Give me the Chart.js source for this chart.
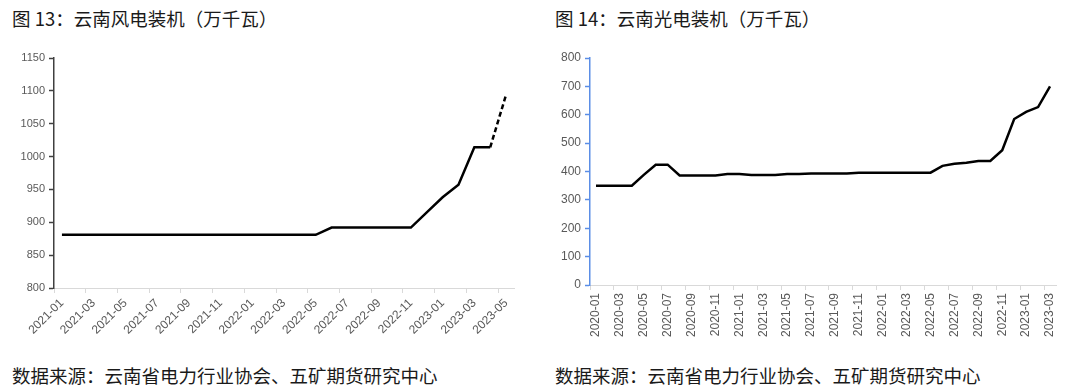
<!DOCTYPE html>
<html lang="zh-cn">
<head>
  <meta charset="UTF-8">
  <title>云南风电、光电装机</title>
  <script src="https://cdn.jsdelivr.net/npm/chart.js"></script>
  <style>
    body { margin: 0; width: 1080px; height: 392px; background: #fff; position: relative; overflow: hidden; font-family: "Noto Sans CJK SC", sans-serif; }
    .titulo { position: absolute; top: 5px; font-size: 18.5px; color: #1a1a1a; white-space: nowrap; }
    .fonte { position: absolute; top: 362px; font-size: 18.5px; color: #1a1a1a; white-space: nowrap; }
    canvas { position: absolute; top: 40px; }
  </style>
</head>
<body>
  <div class="titulo" style="left:12px">图 13：云南风电装机（万千瓦）</div>
  <div class="titulo" style="left:555px">图 14：云南光电装机（万千瓦）</div>

  <canvas id="vento" width="540" height="320" style="left:0"></canvas>
  <canvas id="solar" width="540" height="320" style="left:540px"></canvas>

  <div class="fonte" style="left:12px">数据来源：云南省电力行业协会、五矿期货研究中心</div>
  <div class="fonte" style="left:555px">数据来源：云南省电力行业协会、五矿期货研究中心</div>

  <script>
    // 图13 风电 (万千瓦)
    const ventoMeses = [
      '2021-01','2021-02','2021-03','2021-04','2021-05','2021-06','2021-07','2021-08','2021-09','2021-10','2021-11','2021-12',
      '2022-01','2022-02','2022-03','2022-04','2022-05','2022-06','2022-07','2022-08','2022-09','2022-10','2022-11','2022-12',
      '2023-01','2023-02','2023-03','2023-04','2023-05'
    ];
    const ventoValores = [
      881, 881, 881, 881, 881, 881, 881, 881, 881, 881, 881, 881,
      881, 881, 881, 881, 881, 892, 892, 892, 892, 892, 892, 915,
      938, 957, 1014, 1014, 1094
    ];
    const ventoEixoY = { min: 800, max: 1150, passo: 50 };

    // 图14 光电 (万千瓦)
    const solarMeses = [
      '2020-01','2020-02','2020-03','2020-04','2020-05','2020-06','2020-07','2020-08','2020-09','2020-10','2020-11','2020-12',
      '2021-01','2021-02','2021-03','2021-04','2021-05','2021-06','2021-07','2021-08','2021-09','2021-10','2021-11','2021-12',
      '2022-01','2022-02','2022-03','2022-04','2022-05','2022-06','2022-07','2022-08','2022-09','2022-10','2022-11','2022-12',
      '2023-01','2023-02','2023-03'
    ];
    const solarValores = [
      350, 350, 350, 350, 388, 424, 424, 386, 386, 386, 386, 391,
      391, 388, 388, 388, 391, 391, 393, 393, 393, 393, 396, 396,
      396, 396, 396, 396, 396, 420, 427, 431, 437, 437, 475, 585,
      610, 627, 700
    ];
    const solarEixoY = { min: 0, max: 800, passo: 100 };

    const cinza = '#d9d9d9';

    function criarGrafico(id, meses, valores, eixoY, cfg) {
      const ctx = document.getElementById(id).getContext('2d');
      return new Chart(ctx, {
        type: 'line',
        data: {
          labels: meses,
          datasets: [{
            data: valores,
            borderColor: '#000',
            borderWidth: 2.5,
            pointRadius: 0,
            tension: 0,
            segment: {
              borderDash: s => (cfg.tracejado && s.p1DataIndex === valores.length - 1) ? [5, 3] : undefined
            }
          }]
        },
        options: {
          responsive: false,
          animation: false,
          devicePixelRatio: 1,
          layout: { padding: { top: 18, right: cfg.direita, left: 0, bottom: 0 } },
          plugins: { legend: { display: false }, tooltip: { enabled: false } },
          scales: {
            x: {
              offset: true,
              afterFit: s => { s.height = cfg.alturaX; },
              border: { color: cinza, width: 1 },
              grid: {
                offset: true,
                drawOnChartArea: false,
                tickLength: 5,
                tickColor: c => c.index % 2 === 0 ? cinza : 'rgba(0,0,0,0)'
              },
              ticks: {
                autoSkip: false,
                minRotation: cfg.rotacao,
                maxRotation: cfg.rotacao,
                padding: 3,
                color: '#595959',
                font: { family: 'Liberation Sans', size: 12 },
                callback: (v, i) => i % 2 === 0 ? meses[i] : ''
              }
            },
            y: {
              min: eixoY.min,
              max: eixoY.max,
              afterFit: s => { s.width = cfg.larguraY; },
              border: { color: cfg.corY, width: cfg.espessuraY },
              grid: { drawOnChartArea: false, tickLength: 5, tickColor: cfg.corY, tickWidth: cfg.espessuraY },
              ticks: {
                stepSize: eixoY.passo, padding: 4, color: '#595959',
                font: { family: 'Liberation Sans', size: cfg.fonteY },
                callback: v => String(v)
              }
            }
          }
        }
      });
    }

    criarGrafico('vento', ventoMeses, ventoValores, ventoEixoY,
      { direita: 26, alturaX: 72, larguraY: 54, rotacao: 45, corY: '#404040', espessuraY: 1.5, tracejado: true, fonteY: 11 });
    criarGrafico('solar', solarMeses, solarValores, solarEixoY,
      { direita: 24, alturaX: 75, larguraY: 50, rotacao: 90, corY: '#5b8ee6', espessuraY: 1.5, tracejado: false, fonteY: 12 });
  </script>
</body>
</html>
